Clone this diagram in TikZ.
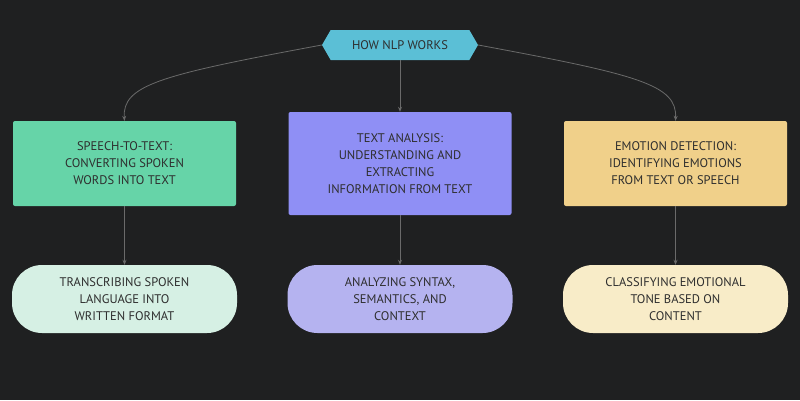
\documentclass[tikz,border=0pt]{standalone}
\usepackage{fontspec}
\setmainfont{PT Sans}
\usetikzlibrary{shapes.symbols,arrows.meta}
\definecolor{bg}{HTML}{1F2021}
\definecolor{tc}{HTML}{2E2E2E}
\definecolor{ln}{HTML}{6A6A6A}
\definecolor{topc}{HTML}{5BBFD6}
\begin{document}
\begin{tikzpicture}[x=1pt,y=-1pt,
  lbl/.style={text=tc,font=\fontsize{12.5}{17}\selectfont,align=center},
  boxst/.style={lbl,rounded corners=2pt,minimum width=223pt,inner sep=0pt},
  pill/.style={lbl,rounded corners=30pt,minimum width=225pt,minimum height=68pt,inner sep=0pt},
  con/.style={draw=ln,line width=0.8pt,-{Stealth[length=5pt,width=4pt]}}]
\fill[bg] (0,0) rectangle (800,400);
\node[lbl,signal,signal to=west and east,signal pointer angle=120,fill=topc,inner xsep=14pt,minimum height=30pt,minimum width=156pt] (top) at (400,45) {HOW NLP WORKS};
\node[boxst,fill={rgb,255:red,102;green,212;blue,168},minimum height=85pt] (b1) at (124.5,163.5) {SPEECH-TO-TEXT:\\CONVERTING SPOKEN\\WORDS INTO TEXT};
\node[boxst,fill={rgb,255:red,143;green,143;blue,245},minimum height=103pt] (b2) at (400,163.5) {TEXT ANALYSIS:\\UNDERSTANDING AND\\EXTRACTING\\INFORMATION FROM TEXT};
\node[boxst,fill={rgb,255:red,240;green,208;blue,138},minimum height=85pt] (b3) at (675.5,163.5) {EMOTION DETECTION:\\IDENTIFYING EMOTIONS\\FROM TEXT OR SPEECH};
\node[pill,fill={rgb,255:red,214;green,240;blue,228}] (p1) at (124.5,299) {TRANSCRIBING SPOKEN\\LANGUAGE INTO\\WRITTEN FORMAT};
\node[pill,fill={rgb,255:red,181;green,179;blue,240}] (p2) at (400,299) {ANALYZING SYNTAX,\\SEMANTICS, AND\\CONTEXT};
\node[pill,fill={rgb,255:red,248;green,236;blue,200}] (p3) at (675.5,299) {CLASSIFYING EMOTIONAL\\TONE BASED ON\\CONTENT};
\draw[con] (top.west) .. controls (160,75) and (122,85) .. (b1.north);
\draw[con] (top.east) .. controls (640,75) and (677,85) .. (b3.north);
\draw[con] (top.south) -- (b2.north);
\draw[con] (b1) -- (p1);
\draw[con] (b2) -- (p2);
\draw[con] (b3) -- (p3);
\end{tikzpicture}
\end{document}
